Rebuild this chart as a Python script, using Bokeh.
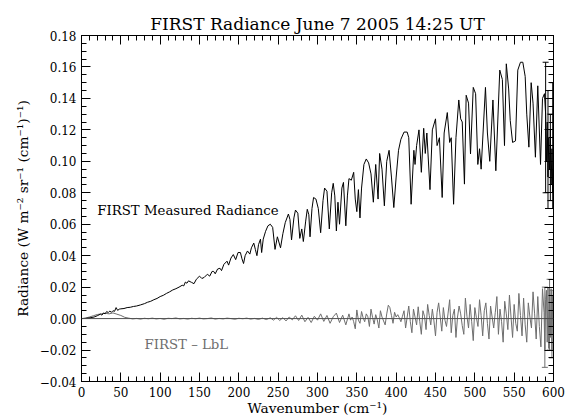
from bokeh.plotting import figure
from bokeh.models import (LinearAxis, Range1d, Label, SingleIntervalTicker, Span,
                          CustomJSTickFormatter, Whisker, TeeHead, ColumnDataSource)
from bokeh.embed import file_html
from bokeh.resources import INLINE

# ---------------- data ----------------
wn = [0, 4, 8, 12, 16, 20, 24, 26, 28, 30, 32, 34, 36, 38, 40, 42, 44, 46, 48, 50,
      54, 58, 62, 66, 70, 75, 80, 84, 88, 92, 96, 100, 104, 108, 112, 116, 120, 124, 128,
      130, 132, 134, 136, 140, 143, 146, 150, 153, 156, 160, 163, 166, 168, 170, 173, 176,
      178, 181, 185, 187, 190, 193, 196, 199, 202, 204, 206, 208, 211, 214, 216, 219, 221,
      223, 225, 227.5, 229, 231, 234, 237, 240, 243, 246, 249, 253, 256, 259, 263, 265, 267,
      270, 272, 275, 277.5, 280, 282, 285, 287, 289, 290.5, 293, 295, 298, 301, 304, 307,
      309, 312, 315, 318, 320, 322, 324, 326, 328, 331, 333, 336, 338, 340, 343, 346, 348,
      350, 352, 354, 356, 359, 362, 365, 368, 371, 374, 377, 379, 382, 385, 388, 391, 394,
      397, 400, 403, 406, 410, 414, 416, 419, 422.5, 424, 426, 429, 432, 435, 437, 439, 443,
      446, 450, 452, 455, 458.5, 461, 465, 468, 470, 473, 476, 479.6, 482, 484, 486.8, 489,
      492, 494.5, 498, 501, 503.8, 506, 508, 513.5, 516, 519, 523, 526.7, 531.7, 535, 537.7,
      540, 543, 545, 548, 551.7, 554.6, 558, 561, 564, 566, 568.7, 571.6, 574, 577, 580,
      583.5, 586, 588.5, 590, 591, 592, 593, 594, 595, 596, 597, 598, 599, 600]
radiance = [0.0000, 0.0001, 0.0003, 0.0006, 0.0010, 0.0018, 0.0028, 0.0022, 0.0036, 0.0030,
            0.0045, 0.0038, 0.0048, 0.0040, 0.0050, 0.0046, 0.0070, 0.0052, 0.0060, 0.0062,
            0.0064, 0.0070, 0.0072, 0.0077, 0.0080, 0.0087, 0.0095, 0.0104, 0.0110, 0.0120,
            0.0128, 0.0140, 0.0148, 0.0160, 0.0170, 0.0182, 0.0190, 0.0200, 0.0212,
            0.0208, 0.0232, 0.0225, 0.0240, 0.0230, 0.0222, 0.0250, 0.0270, 0.0255, 0.0262,
            0.0282, 0.0270, 0.0300, 0.0300, 0.0285, 0.0315, 0.0320,
            0.0305, 0.0345, 0.0365, 0.0340, 0.0385, 0.0407, 0.0375, 0.0420, 0.0420, 0.0380,
            0.0350, 0.0400, 0.0430, 0.0410, 0.0450, 0.0480, 0.0440,
            0.0400, 0.0470, 0.0505, 0.0420, 0.0505, 0.0555, 0.0590, 0.0600, 0.0580, 0.0440,
            0.0520, 0.0450, 0.0540, 0.0610, 0.0665, 0.0630, 0.0500,
            0.0640, 0.0690, 0.0670, 0.0510, 0.0570, 0.0490, 0.0620, 0.0695, 0.0660, 0.0520,
            0.0700, 0.0770, 0.0760, 0.0700, 0.0546, 0.0750,
            0.0830, 0.0810, 0.0570, 0.0800, 0.0860, 0.0780, 0.0557, 0.0740, 0.0600, 0.0830,
            0.0866, 0.0590, 0.0780, 0.0890, 0.0880, 0.0930, 0.0760,
            0.0680, 0.0820, 0.0640, 0.0830, 0.0980, 0.1015, 0.0990, 0.0920, 0.0740, 0.0980,
            0.0760, 0.1050, 0.0950, 0.0717, 0.1000, 0.1070, 0.0900,
            0.0706, 0.0900, 0.1070, 0.1140, 0.1186, 0.1186, 0.1150, 0.0727, 0.1070, 0.0980,
            0.1100, 0.1200, 0.0930, 0.1210, 0.1050, 0.1180, 0.0820,
            0.1200, 0.1270, 0.1100, 0.1150, 0.0770, 0.1180, 0.1310, 0.1120, 0.1150, 0.0727,
            0.1150, 0.1390, 0.1270, 0.1250, 0.0855, 0.1420,
            0.1370, 0.1047, 0.1470, 0.1430, 0.0980, 0.1080, 0.0950, 0.1470, 0.1180, 0.1000,
            0.1390, 0.0940, 0.1580, 0.1520, 0.1100,
            0.1620, 0.1460, 0.1260, 0.1120, 0.1130, 0.1580, 0.1630, 0.1630, 0.1540, 0.1300,
            0.1090, 0.1500, 0.1370, 0.1026, 0.1480,
            0.0980, 0.1400, 0.1430, 0.1300, 0.1000, 0.1250, 0.0900, 0.1150, 0.0950, 0.1200,
            0.0850, 0.1080, 0.0800, 0.0950]

wn_diff = [0, 5, 10, 15, 20, 25, 30, 35, 40, 45,
           50, 55, 60, 65, 70, 75, 80, 85, 90, 95,
           100, 105, 110, 115, 120, 125, 130, 135, 140, 145,
           150, 155, 160, 165, 170, 175, 180, 185, 190, 195,
           200, 205, 210, 215, 220, 225, 230, 235, 240, 244,
           248, 252, 256, 260, 264, 268, 272, 276, 280, 284,
           288, 292, 296, 300, 304, 308, 312, 316, 320, 324,
           328, 332, 336, 340, 342, 344, 346, 348, 350, 352,
           354, 356, 358, 360, 362, 364, 366, 368, 370, 372,
           374, 376, 378, 380, 382, 384, 386, 388, 390, 392,
           394, 396, 398, 400, 402, 404, 406, 408, 410, 412,
           414, 416, 418, 420, 422, 424, 426, 428, 430, 432,
           434, 436, 438, 440, 442, 444, 446, 448, 450, 452,
           454, 456, 458, 460, 462, 464, 466, 468, 470, 472,
           474, 476, 478, 480, 482, 484, 486, 488, 490, 492,
           494, 496, 498, 500, 502, 504, 506, 508, 510, 512,
           514, 516, 518, 520, 522, 524, 526, 528, 530, 532,
           534, 536, 538, 540, 542, 544, 546, 548, 550, 552,
           554, 556, 558, 560, 562, 564, 566, 568, 570, 572,
           574, 576, 578, 580, 582, 584, 586, 588, 589, 590,
           591, 592, 593, 594, 595, 596, 597, 598, 599, 600]
diff = [0.0, 0.0003, 0.0010, 0.0018, 0.0026, 0.0030, 0.0034, 0.0030, 0.0036, 0.0028,
        0.0020, 0.0008, 0.0003, -0.0002, 0.0001, -0.0003, 0.0002, -0.0001, 0.0003, -0.0002,
        0.0001, -0.0004, 0.0002, 0.0000, 0.0004, -0.0002, 0.0001, -0.0003, 0.0002, -0.0001,
        0.0003, -0.0002, 0.0000, 0.0004, -0.0003, 0.0001, -0.0002, 0.0003, 0.0000, -0.0004,
        0.0002, -0.0001, 0.0003, -0.0003, 0.0001, -0.0005, 0.0003, -0.0006, 0.0005, -0.0010,
        0.0008, -0.0012, 0.0006, -0.0015, 0.0010, -0.0008, 0.0018, -0.0012, 0.0022, -0.0020,
        0.0008, -0.0025, 0.0015, -0.0010, 0.0030, -0.0018, 0.0020, -0.0030, 0.0012, 0.0035,
        -0.0025, 0.0022, -0.0040, 0.0030, -0.0010, 0.0010, -0.0020, -0.0065, 0.0055, -0.0010,
        -0.0030, 0.0045, 0.0005, -0.0020, 0.0030, 0.0012, -0.0050, 0.0060, 0.0008, -0.0035,
        0.0025, -0.0008, -0.0060, 0.0050, 0.0010, -0.0015, -0.0040, 0.0030, 0.0085, 0.0070,
        0.0020, -0.0030, 0.0040, 0.0010, 0.0025, 0.0005, -0.0020, 0.0015, 0.0050, -0.0060,
        0.0010, 0.0080, -0.0020, -0.0090, 0.0060, 0.0010, -0.0040, 0.0075, -0.0020, -0.0100,
        0.0050, 0.0015, -0.0070, 0.0090, 0.0020, -0.0040, 0.0060, -0.0015, -0.0110, 0.0040,
        0.0100, 0.0010, -0.0080, 0.0070, -0.0010, -0.0050, 0.0035, 0.0120, -0.0090, 0.0020,
        0.0060, -0.0120, 0.0010, 0.0080, 0.0030, -0.0045, -0.0100, 0.0130, 0.0015, -0.0060,
        0.0090, -0.0020, -0.0140, 0.0070, 0.0005, -0.0050, 0.0120, 0.0020, -0.0110, 0.0050,
        0.0100, -0.0030, -0.0130, 0.0080, 0.0010, -0.0060, 0.0040, 0.0140, -0.0100, 0.0060,
        -0.0020, -0.0150, 0.0110, 0.0030, -0.0070, 0.0150, 0.0010, -0.0120, 0.0090, -0.0030,
        -0.0080, 0.0160, 0.0020, -0.0110, 0.0130, -0.0040, -0.0150, 0.0100, 0.0010, -0.0060,
        0.0170, 0.0030, -0.0130, 0.0140, -0.0050, -0.0180, 0.0190, 0.0040, -0.0200, 0.0120,
        0.0180, -0.0150, 0.0200, -0.0190, 0.0160, -0.0120, 0.0190, -0.0200, 0.0150, -0.0100]

# error bars near the band edge
err_wn = [590, 593, 596, 599]
err_lo = [0.080, 0.070, 0.075, 0.070]
err_hi = [0.163, 0.145, 0.130, 0.150]
derr_wn = [589, 595, 598]
derr_lo = [-0.031, -0.020, -0.025]
derr_hi = [0.020, 0.025, 0.018]

x_ticks_interval = 50
y_ticks_interval = 0.02

FONT = "DejaVu Serif"

p = figure(width=566, height=418, x_range=Range1d(0, 600), y_range=Range1d(-0.04, 0.18),
           output_backend="svg", toolbar_location=None,
           min_border_left=81, min_border_right=13, min_border_top=35, min_border_bottom=37)
p.xgrid.visible = False
p.ygrid.visible = False
p.outline_line_color = "black"
p.outline_line_width = 1
p.background_fill_color = "white"
p.border_fill_color = "white"

p.title.text = "FIRST Radiance June 7 2005 14:25 UT"
p.title.align = "center"
p.title.text_font = FONT
p.title.text_font_size = "17px"
p.title.text_font_style = "normal"
p.title.text_color = "black"
p.title.standoff = 3

xt = SingleIntervalTicker(interval=x_ticks_interval, num_minor_ticks=5)
yt = SingleIntervalTicker(interval=y_ticks_interval, num_minor_ticks=4)
yfmt = CustomJSTickFormatter(code="""
if (Math.abs(tick) < 1e-9) return "0.00";
return tick.toFixed(2).replace("-", "\u2212");
""")
blank = CustomJSTickFormatter(code="return '';")

def style(ax, labels=True):
    ax.major_tick_in = 9
    ax.major_tick_out = 0
    ax.minor_tick_in = 5
    ax.minor_tick_out = 0
    ax.axis_line_color = "black"
    ax.major_tick_line_color = "black"
    ax.minor_tick_line_color = "black"
    ax.major_label_text_font = FONT
    ax.major_label_text_color = "black"
    ax.axis_label_text_font = FONT
    ax.axis_label_text_font_style = "normal"
    ax.axis_label_text_color = "black"
    ax.major_label_text_font_size = "12px"
    ax.axis_label_text_font_size = "13.75px"
    if labels:
        ax.major_label_standoff = 5
    else:
        ax.formatter = blank
        ax.major_label_standoff = 0

p.xaxis.ticker = xt
p.yaxis.ticker = yt
p.yaxis.formatter = yfmt
style(p.xaxis[0])
style(p.yaxis[0])
p.xaxis.axis_label = "Wavenumber (cm\u207b\u00b9)"
p.yaxis.axis_label = "Radiance (W m\u207b\u00b2 sr\u207b\u00b9 (cm\u207b\u00b9)\u207b\u00b9)"
p.xaxis.axis_label_standoff = 0
p.yaxis.axis_label_standoff = 6

top = LinearAxis(ticker=xt)
style(top, labels=False)
p.add_layout(top, "above")
right = LinearAxis(ticker=yt)
style(right, labels=False)
p.add_layout(right, "right")

p.add_layout(Span(location=0, dimension="width", line_color="#505050", line_width=1))

p.line(wn_diff, diff, line_color="#6e6e6e", line_width=1)
p.line(wn, radiance, line_color="black", line_width=1)

esrc = ColumnDataSource(dict(x=err_wn, lo=err_lo, hi=err_hi))
p.add_layout(Whisker(base="x", lower="lo", upper="hi", source=esrc, line_color="black",
                     line_width=1,
                     upper_head=TeeHead(size=6, line_color="black"),
                     lower_head=TeeHead(size=6, line_color="black")))
dsrc = ColumnDataSource(dict(x=derr_wn, lo=derr_lo, hi=derr_hi))
p.add_layout(Whisker(base="x", lower="lo", upper="hi", source=dsrc, line_color="#6e6e6e",
                     line_width=1,
                     upper_head=TeeHead(size=6, line_color="#6e6e6e"),
                     lower_head=TeeHead(size=6, line_color="#6e6e6e")))

p.add_layout(Label(x=20, y=0.0685, text="FIRST Measured Radiance",
                   text_font=FONT, text_font_size="13.3px", text_align="left",
                   text_baseline="middle", text_color="black"))
p.add_layout(Label(x=80, y=-0.0166, text="FIRST \u2013 LbL",
                   text_font=FONT, text_font_size="13.3px", text_align="left",
                   text_baseline="middle", text_color="#6e6e6e"))

open("out.html", "w").write(file_html(p, INLINE))
